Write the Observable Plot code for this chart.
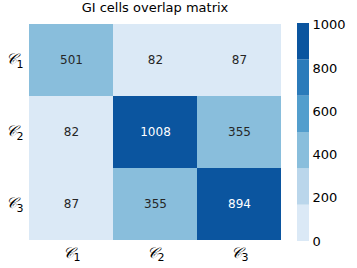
<!DOCTYPE html>
<html><head><meta charset="utf-8">
<script src="https://cdn.jsdelivr.net/npm/d3@7"></script>
<script src="https://cdn.jsdelivr.net/npm/@observablehq/plot@0.6"></script>
<style>
body{margin:0;background:#fff;font-family:"DejaVu Sans",sans-serif;}
#wrap{position:relative;width:357px;height:268px;}
#wrap > div, #wrap > svg{position:absolute;top:0;}
#title{position:absolute;left:28px;width:254px;top:5px;text-align:center;font-size:13px;color:#000;}
</style></head>
<body>
<div id="wrap"><div id="title">GI cells overlap matrix</div></div>
<script>
const categories = ["𝒞1", "𝒞2", "𝒞3"];
const row1 = [501, 82, 87];
const row2 = [82, 1008, 355];
const row3 = [87, 355, 894];
const colorTicks = [0, 200, 400, 600, 800, 1000];
const palette = ["#dbe9f6", "#bad6eb", "#89bedc", "#539ecd", "#2b7bba", "#0b559f"];

const rows = [row1, row2, row3];
const cells = [];
rows.forEach((r, i) => r.forEach((v, j) => cells.push({row: categories[i], col: categories[j], value: v})));
const vmax = d3.max(cells, d => d.value);
const vmin = 0;
const step = (vmax - vmin) / palette.length;
const thresholds = d3.range(1, palette.length).map(k => vmin + k * step);
const bins = palette.map((c, k) => ({y1: vmin + k * step, y2: vmin + (k + 1) * step, color: c}));

const heat = Plot.plot({
  width: 357, height: 268,
  marginLeft: 28, marginRight: 75, marginTop: 23, marginBottom: 27,
  style: {fontFamily: "DejaVu Sans, sans-serif", fontSize: "12px", background: "transparent"},
  x: {domain: categories, padding: 0, label: null, tickSize: 0, tickPadding: 8},
  y: {domain: categories, padding: 0, label: null, tickSize: 0, tickPadding: 5},
  color: {type: "threshold", domain: thresholds, range: palette},
  marks: [
    Plot.cell(cells, {x: "col", y: "row", fill: "value"}),
    Plot.text(cells, {x: "col", y: "row", text: d => String(d.value), fontSize: 12,
      fill: d => (d3.bisectRight(thresholds, d.value) >= 4 ? "#ffffff" : "#262626")})
  ]
});
heat.style.left = "0px";
// render labels as calligraphic C with a subscript
d3.select(heat).selectAll("g[aria-label='x-axis tick label'] text, g[aria-label='y-axis tick label'] text").each(function () {
  const t = d3.select(this);
  const s = t.text();
  t.text(null);
  t.append("tspan").attr("font-size", 15).attr("font-family", "DejaVu Serif, serif").attr("font-style", "italic").text(s.slice(0, s.length - 1));
  t.append("tspan").attr("font-size", 11).attr("dy", "0.3em").text(s.slice(-1));
});
document.getElementById("wrap").appendChild(heat);

const bar = Plot.plot({
  width: 67, height: 268,
  marginLeft: 7, marginRight: 48, marginTop: 23, marginBottom: 27,
  style: {fontFamily: "DejaVu Sans, sans-serif", fontSize: "13px", background: "transparent"},
  x: {domain: [0, 1], axis: null},
  y: {domain: [vmin, vmax], axis: "right", ticks: colorTicks, tickFormat: d => String(d), tickSize: 0, tickPadding: 3, label: null},
  marks: [
    Plot.rect(bins, {x1: 0, x2: 1, y1: "y1", y2: "y2", fill: "color"})
  ]
});
bar.style.left = "290px";
document.getElementById("wrap").appendChild(bar);
</script>
</body></html>
